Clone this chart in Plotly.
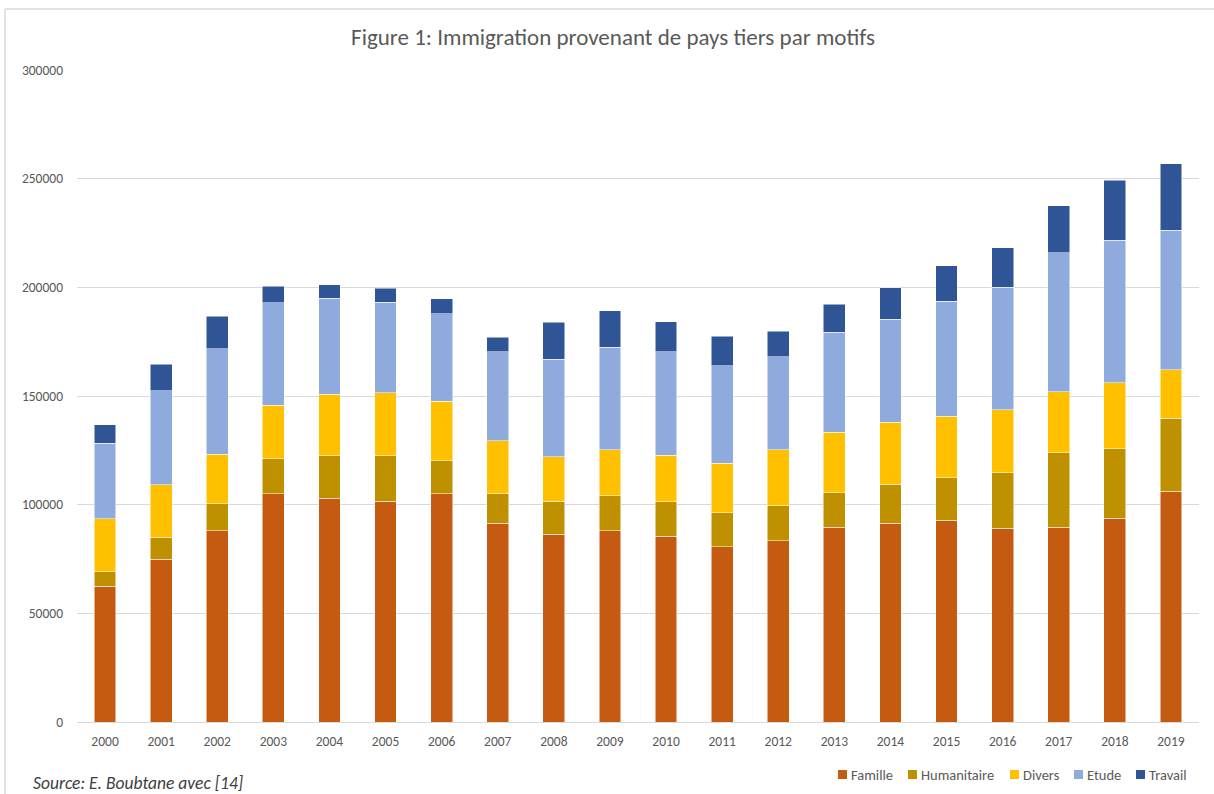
import plotly.graph_objects as go

years = [str(y) for y in range(2000, 2020)]
famille = [62400, 74900, 88100, 105100, 103000, 101600, 105100, 91400, 86400, 88100,
           85500, 80600, 83500, 89600, 91500, 92800, 89200, 89600, 93700, 106200]
humanitaire = [6800, 10000, 12400, 16100, 19500, 20900, 15100, 13700, 15200, 16100,
               15900, 15600, 16100, 16000, 17900, 19600, 25600, 34400, 32000, 33500]
divers = [24300, 24200, 22700, 24500, 28200, 29100, 27300, 24300, 20500, 21000,
          21400, 22900, 25700, 27700, 28600, 28200, 28900, 28000, 30400, 22300]
etude = [34700, 43400, 48600, 47200, 44200, 41500, 40400, 41000, 44900, 47200,
         47600, 44900, 42800, 46000, 47300, 53000, 56300, 63800, 65600, 64200]
travail = [8600, 12000, 15000, 7500, 6300, 6400, 6800, 6600, 17000, 16900,
           13800, 13500, 11800, 13000, 14600, 16300, 18200, 21800, 27600, 30700]

series = [
    ("Famille", famille, "#C55A11"),
    ("Humanitaire", humanitaire, "#BF9000"),
    ("Divers", divers, "#FFC000"),
    ("Etude", etude, "#8FAADC"),
    ("Travail", travail, "#2F5597"),
]

FONT = "Carlito, Calibri, Lato, sans-serif"
fig = go.Figure()
for name, vals, col in series:
    fig.add_trace(go.Bar(x=years, y=vals, name=name, showlegend=False,
                         marker=dict(color=col, line=dict(color="white", width=0.5))))

W, H = 1214, 794
L, R, T, B = 77, 1199, 70, 722
def px(x): return (x - L) / (R - L)
def py(y): return (B - y) / (B - T)

fig.update_layout(
    width=W, height=H,
    margin=dict(l=L, r=W - R, t=T, b=H - B, autoexpand=False),
    barmode="stack", bargap=0.61,
    plot_bgcolor="white", paper_bgcolor="white",
    font=dict(family=FONT, color="#595959", size=13),
    title=dict(text="Figure 1: Immigration provenant de pays tiers par motifs",
               x=px(613), xref="paper", xanchor="center", y=1 - 37 / H, yanchor="middle",
               font=dict(size=23, color="#595959", family=FONT)),
    yaxis=dict(range=[0, 300000], dtick=50000, tickformat="d",
               gridcolor="#D9D9D9", gridwidth=1, zeroline=False,
               showline=False, ticks="", tickfont=dict(size=13.5, color="#595959"),
               ticklabelstandoff=13),
    xaxis=dict(showline=True, linecolor="#D9D9D9", linewidth=1, ticks="",
               tickfont=dict(size=13.5, color="#595959"), ticklabelstandoff=7),
    showlegend=False,
)

# Legend drawn as squares + text labels (bottom right)
leg_sq_x = [838, 908, 1010, 1074, 1136]
leg_y = 774.5
for (name, vals, col), sx in zip(series, leg_sq_x):
    fig.add_shape(type="rect", xref="paper", yref="paper",
                  x0=px(sx), x1=px(sx + 9), y0=py(leg_y - 4.5), y1=py(leg_y + 4.5),
                  fillcolor=col, line=dict(width=0))
    fig.add_annotation(text=name, xref="paper", yref="paper", x=px(sx + 11), y=py(leg_y),
                       xanchor="left", yanchor="middle", showarrow=False,
                       font=dict(size=14.5, color="#595959", family=FONT))

fig.add_annotation(text="<i>Source: E. Boubtane avec [14]</i>", xref="paper", yref="paper",
                   x=px(31), y=py(783), xanchor="left", yanchor="middle", showarrow=False,
                   font=dict(size=17.5, color="#404040", family=FONT))

fig.add_shape(type="line", xref="paper", yref="paper", x0=px(5), x1=px(5), y0=py(9), y1=py(794),
              line=dict(color="#D9D9D9", width=1.5))
fig.add_shape(type="line", xref="paper", yref="paper", x0=px(5), x1=px(1214), y0=py(9), y1=py(9),
              line=dict(color="#D9D9D9", width=1.5))

fig.write_html("out.html", config={"displayModeBar": False},
               post_script="document.body.style.margin='0';document.body.style.overflow='hidden';")
